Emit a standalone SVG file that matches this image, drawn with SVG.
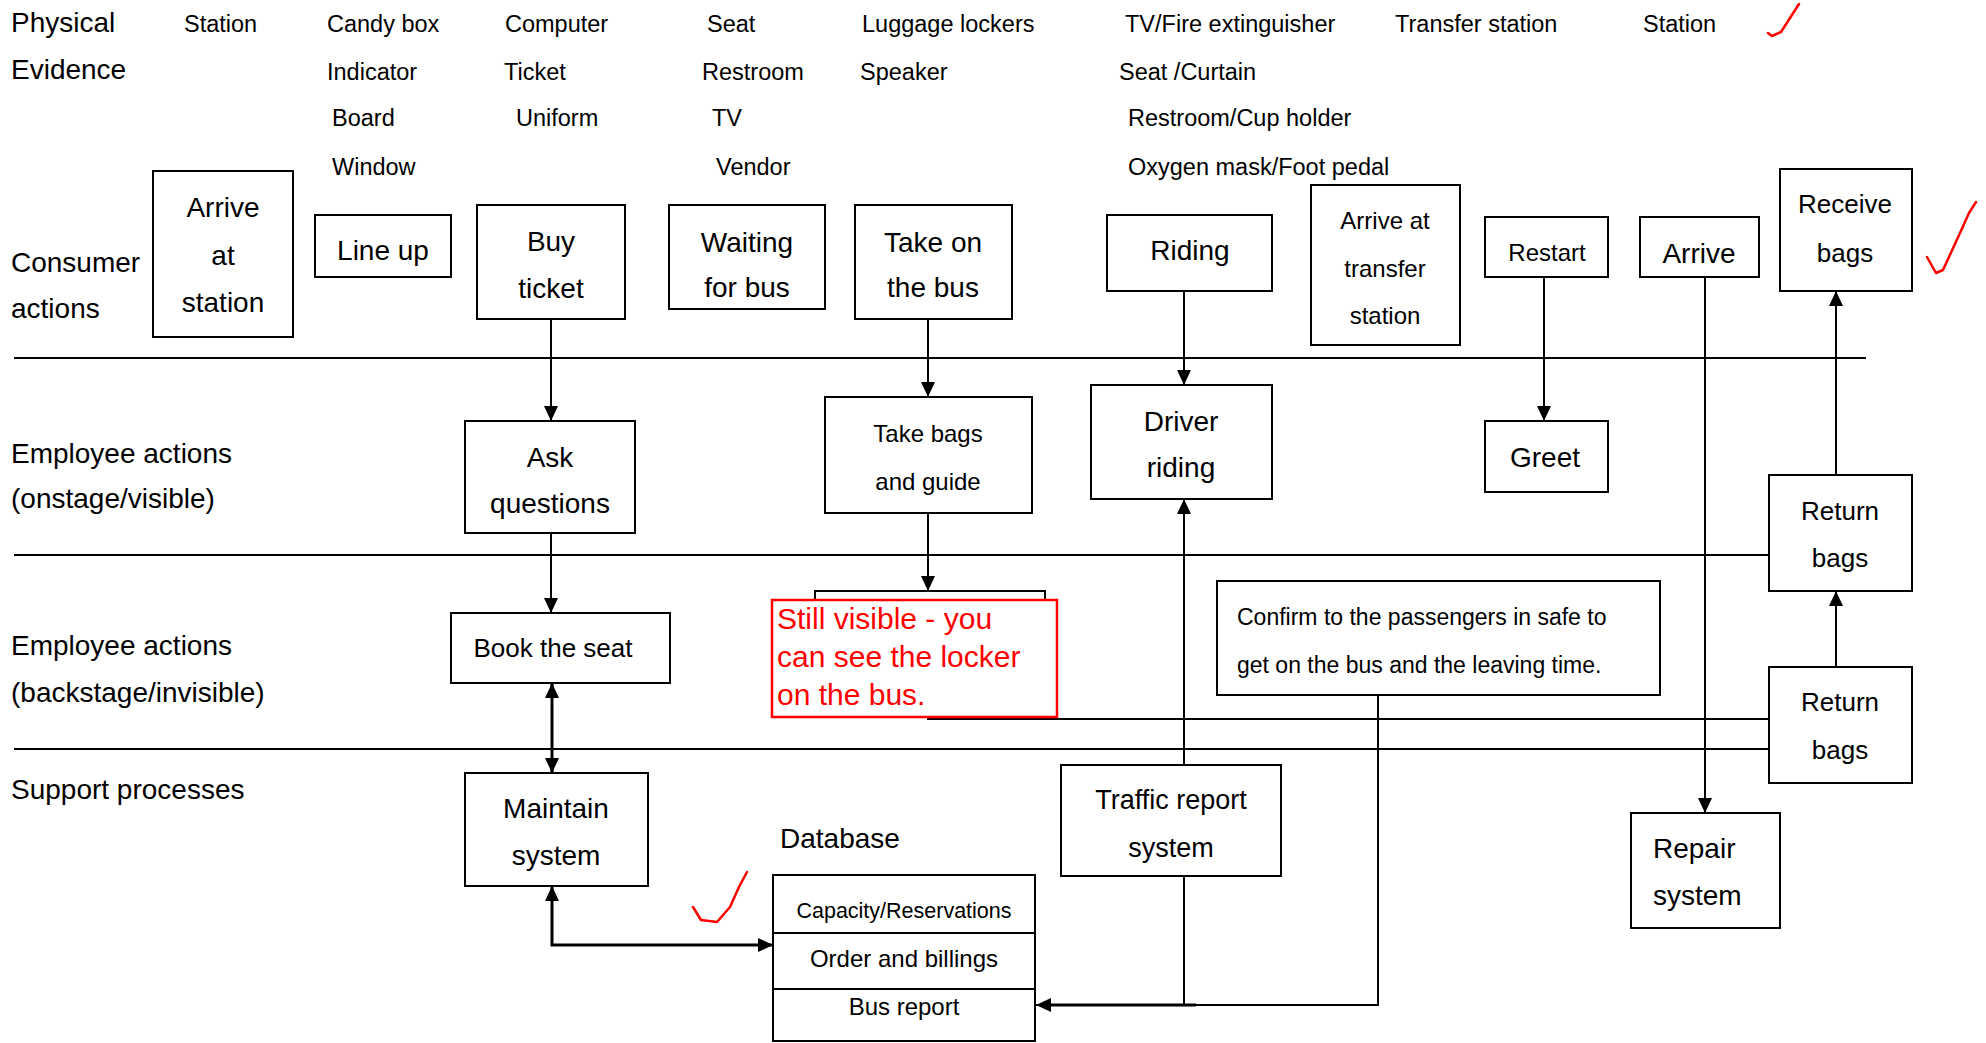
<svg xmlns="http://www.w3.org/2000/svg" width="1986" height="1043" viewBox="0 0 1986 1043">
<style>
text{font-family:"Liberation Sans",Arial,sans-serif;fill:#000}
.lane{font-size:28px}
.pe{font-size:23.5px}
.box{fill:#fff;stroke:#000;stroke-width:2}
.t{text-anchor:middle;font-size:28px}
.s24{font-size:24px}
.s26{font-size:26px}
.s27{font-size:27px}
.s215{font-size:21.5px}
.s23{font-size:23px}
.ln{stroke:#000;stroke-width:2;fill:none}
.c{stroke:#000;stroke-width:2;fill:none}
.thick{stroke-width:3}
.red{fill:none;stroke:#f00;stroke-width:2.5;stroke-linecap:round;stroke-linejoin:round}
.note{fill:#f00;font-size:30px}
</style>
<defs>
<marker id="ah" markerUnits="userSpaceOnUse" markerWidth="16" markerHeight="14" refX="15" refY="7" orient="auto-start-reverse" viewBox="0 0 16 14">
<path d="M0,0 L15,7 L0,14 z" fill="#000"/>
</marker>
</defs>
<rect width="1986" height="1043" fill="#fff"/>

<g id="lanes">
<line class="ln" x1="14" y1="358" x2="1866" y2="358"/>
<line class="ln" x1="14" y1="555" x2="1769" y2="555"/>
<line class="ln" x1="14" y1="749" x2="1769" y2="749"/>
<text class="lane" x="11" y="32">Physical</text>
<text class="lane" x="11" y="79">Evidence</text>
<text class="lane" x="11" y="272">Consumer</text>
<text class="lane" x="11" y="318">actions</text>
<text class="lane" x="11" y="463">Employee actions</text>
<text class="lane" x="11" y="508">(onstage/visible)</text>
<text class="lane" x="11" y="655">Employee actions</text>
<text class="lane" x="11" y="702">(backstage/invisible)</text>
<text class="lane" x="11" y="799">Support processes</text>
</g>

<g id="physical-evidence">
<text class="pe" x="184" y="32">Station</text>
<text class="pe" x="327" y="32">Candy box</text>
<text class="pe" x="327" y="80">Indicator</text>
<text class="pe" x="332" y="126">Board</text>
<text class="pe" x="332" y="175">Window</text>
<text class="pe" x="505" y="32">Computer</text>
<text class="pe" x="504" y="80">Ticket</text>
<text class="pe" x="516" y="126">Uniform</text>
<text class="pe" x="707" y="32">Seat</text>
<text class="pe" x="702" y="80">Restroom</text>
<text class="pe" x="712" y="126">TV</text>
<text class="pe" x="716" y="175">Vendor</text>
<text class="pe" x="862" y="32">Luggage lockers</text>
<text class="pe" x="860" y="80">Speaker</text>
<text class="pe" x="1125" y="32">TV/Fire extinguisher</text>
<text class="pe" x="1119" y="80">Seat /Curtain</text>
<text class="pe" x="1128" y="126">Restroom/Cup holder</text>
<text class="pe" x="1128" y="175">Oxygen mask/Foot pedal</text>
<text class="pe" x="1395" y="32">Transfer station</text>
<text class="pe" x="1643" y="32">Station</text>
</g>

<g id="connectors">
<path class="c" d="M551,319 V421" marker-end="url(#ah)"/>
<path class="c" d="M551,533 V613" marker-end="url(#ah)"/>
<path class="c thick" d="M552,683 V773" marker-start="url(#ah)" marker-end="url(#ah)"/>
<path class="c thick" d="M552,886 V945 H773" marker-start="url(#ah)" marker-end="url(#ah)"/>
<path class="c" d="M928,319 V397" marker-end="url(#ah)"/>
<path class="c" d="M928,513 V591" marker-end="url(#ah)"/>
<path class="c" d="M1184,291 V385" marker-end="url(#ah)"/>
<path class="c" d="M1184,765 V499" marker-end="url(#ah)"/>
<path class="c" d="M1184,876 V1005"/>
<path class="c" d="M1378,695 V1005 H1036" marker-end="url(#ah)"/>
<path class="c thick" d="M1196,1005 H1045"/>
<path class="c" d="M1544,277 V421" marker-end="url(#ah)"/>
<path class="c" d="M1705,277 V813" marker-end="url(#ah)"/>
<path class="c" d="M1836,475 V291" marker-end="url(#ah)"/>
<path class="c" d="M1836,667 V591" marker-end="url(#ah)"/>
<path class="c" d="M927,719 H1769"/>
</g>

<g id="arrive-at-station"><rect class="box" x="153" y="171" width="140" height="166"/>
<text class="t" x="223" y="217">Arrive</text><text class="t" x="223" y="265">at</text><text class="t" x="223" y="312">station</text></g>
<g id="line-up"><rect class="box" x="315" y="215" width="136" height="62"/>
<text class="t" x="383" y="260">Line up</text></g>
<g id="buy-ticket"><rect class="box" x="477" y="205" width="148" height="114"/>
<text class="t" x="551" y="251">Buy</text><text class="t" x="551" y="298">ticket</text></g>
<g id="waiting-for-bus"><rect class="box" x="669" y="205" width="156" height="104"/>
<text class="t" x="747" y="252">Waiting</text><text class="t" x="747" y="297">for bus</text></g>
<g id="take-on-the-bus"><rect class="box" x="855" y="205" width="157" height="114"/>
<text class="t" x="933" y="252">Take on</text><text class="t" x="933" y="297">the bus</text></g>
<g id="riding"><rect class="box" x="1107" y="215" width="165" height="76"/>
<text class="t" x="1190" y="260">Riding</text></g>
<g id="arrive-at-transfer-station"><rect class="box" x="1311" y="185" width="149" height="160"/>
<text class="t s24" x="1385" y="229">Arrive at</text><text class="t s24" x="1385" y="277">transfer</text><text class="t s24" x="1385" y="324">station</text></g>
<g id="restart"><rect class="box" x="1485" y="217" width="123" height="60"/>
<text class="t s24" x="1547" y="261">Restart</text></g>
<g id="arrive"><rect class="box" x="1640" y="217" width="119" height="60"/>
<text class="t" x="1699" y="263">Arrive</text></g>
<g id="receive-bags"><rect class="box" x="1780" y="169" width="132" height="122"/>
<text class="t s26" x="1845" y="213">Receive</text><text class="t s26" x="1845" y="262">bags</text></g>

<g id="ask-questions"><rect class="box" x="465" y="421" width="170" height="112"/>
<text class="t" x="550" y="467">Ask</text><text class="t" x="550" y="513">questions</text></g>
<g id="take-bags-and-guide"><rect class="box" x="825" y="397" width="207" height="116"/>
<text class="t s24" x="928" y="442">Take bags</text><text class="t s24" x="928" y="490">and guide</text></g>
<g id="driver-riding"><rect class="box" x="1091" y="385" width="181" height="114"/>
<text class="t" x="1181" y="431">Driver</text><text class="t" x="1181" y="477">riding</text></g>
<g id="greet"><rect class="box" x="1485" y="421" width="123" height="71"/>
<text class="t" x="1545" y="467">Greet</text></g>
<g id="return-bags-onstage"><rect class="box" x="1769" y="475" width="143" height="116"/>
<text class="t s26" x="1840" y="520">Return</text><text class="t s26" x="1840" y="567">bags</text></g>

<g id="book-the-seat"><rect class="box" x="451" y="613" width="219" height="70"/>
<text class="t s26" x="553" y="657">Book the seat</text></g>
<g id="locker-box"><rect class="box" x="815" y="591" width="230" height="110"/></g>
<g id="still-visible-note"><rect x="772" y="600" width="285" height="117" fill="#fff" stroke="#f00" stroke-width="2.5"/>
<text class="note" x="777" y="629">Still visible - you</text>
<text class="note" x="777" y="667">can see the locker</text>
<text class="note" x="777" y="705">on the bus.</text></g>
<g id="confirm"><rect class="box" x="1217" y="581" width="443" height="114"/>
<text class="s23" x="1237" y="625">Confirm to the passengers in safe to</text>
<text class="s23" x="1237" y="673">get on the bus and the leaving time.</text></g>
<g id="return-bags-backstage"><rect class="box" x="1769" y="667" width="143" height="116"/>
<text class="t s26" x="1840" y="711">Return</text><text class="t s26" x="1840" y="759">bags</text></g>

<g id="maintain-system"><rect class="box" x="465" y="773" width="183" height="113"/>
<text class="t" x="556" y="818">Maintain</text><text class="t" x="556" y="865">system</text></g>
<g id="database">
<text class="lane" x="780" y="848">Database</text>
<rect class="box" x="773" y="875" width="262" height="166"/>
<line class="ln" x1="773" y1="933" x2="1035" y2="933"/>
<line class="ln" x1="773" y1="989" x2="1035" y2="989"/>
<text class="t s215" x="904" y="918">Capacity/Reservations</text>
<text class="t s24" x="904" y="967">Order and billings</text>
<text class="t s24" x="904" y="1015">Bus report</text>
</g>
<g id="traffic-report-system"><rect class="box" x="1061" y="765" width="220" height="111"/>
<text class="t s27" x="1171" y="809">Traffic report</text><text class="t s27" x="1171" y="857">system</text></g>
<g id="repair-system"><rect class="box" x="1631" y="813" width="149" height="115"/>
<text class="lane" x="1653" y="858">Repair</text><text class="lane" x="1653" y="905">system</text></g>

<g id="checkmarks">
<path class="red" d="M1768,33 L1772,36 L1781,32 L1799,4"/>
<path class="red" d="M1927,257 L1936,273 L1943,270 L1960,233 L1969,213 L1976,202"/>
<path class="red" d="M693,907 L701,920 L717,922 L730,907 L739,887 L747,872"/>
</g>
</svg>
